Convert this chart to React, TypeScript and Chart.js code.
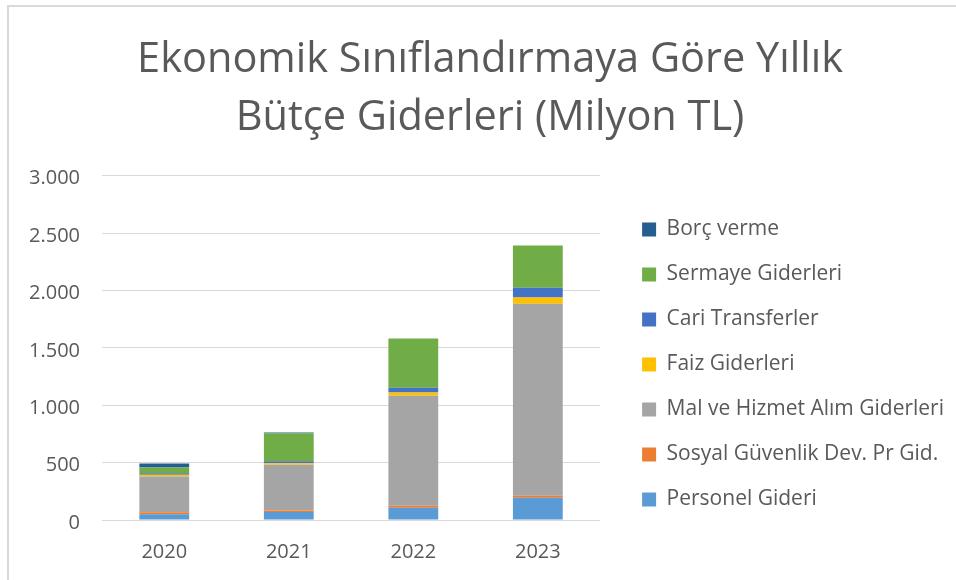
import React, { useEffect, useRef } from "react";
import { Chart, registerables } from "chart.js";
Chart.register(...registerables);

const years = ["2020", "2021", "2022", "2023"];
const seriesNames = [
  "Personel Gideri",
  "Sosyal Güvenlik Dev. Pr Gid.",
  "Mal ve Hizmet Alım Giderleri",
  "Faiz Giderleri",
  "Cari Transferler",
  "Sermaye Giderleri",
  "Borç verme",
];
const personel = [50, 70, 107, 194];
const sosyal = [17, 12, 17, 17];
const malHizmet = [311, 400, 958, 1673];
const faiz = [17, 12, 29, 55];
const cariTransfer = [12, 17, 41, 84];
const sermaye = [50, 244, 430, 369];
const borcVerme = [35, 8, 0, 0];
const seriesValues = [personel, sosyal, malHizmet, faiz, cariTransfer, sermaye, borcVerme];
const seriesColors = ["#5B9BD5", "#ED7D31", "#A5A5A5", "#FFC000", "#4472C4", "#70AD47", "#255E91"];
const titleLines = ["Ekonomik Sınıflandırmaya Göre Yıllık", "Bütçe Giderleri (Milyon TL)"];
const yMax = 3000;
const yStep = 500;

const FAMILY = '"Open Sans", sans-serif';
const TEXT = "#595959";
const CH = 580;

function fmt(v: number) {
  return String(v).replace(/\B(?=(\d{3})+(?!\d))/g, ".");
}

// layout targets (page pixels)
const AREA_LEFT = 102;
const AREA_RIGHT = 600;
const AREA_TOP = 175.7;
const AREA_BOTTOM = 520;
const LEGEND_BOX_X = 642;
const TITLE_CENTER = 490;

export default function App() {
  const ref = useRef<HTMLCanvasElement | null>(null);
  useEffect(() => {
    if (!ref.current) return;
    const legendFs = 21;
    const legPad = 24;
    const boxW = 14;
    const m = document.createElement("canvas").getContext("2d")!;
    m.font = `normal ${legendFs}px ${FAMILY}`;
    let tw = 0;
    seriesNames.forEach((n) => (tw = Math.max(tw, m.measureText(n).width)));
    const wLeg = legPad + boxW + legendFs / 2 + tw + 10;
    const legendLeft = LEGEND_BOX_X - legPad;
    const a = 2 * TITLE_CENTER - legendLeft - wLeg;
    const L = Math.min(0, Math.floor(a));
    const pl = a - L;
    const CW = Math.ceil(legendLeft + wLeg - L);
    const canvas = ref.current;
    canvas.width = CW;
    canvas.height = CH;
    canvas.style.width = CW + "px";
    canvas.style.height = CH + "px";
    canvas.style.left = L + "px";

    const chart = new Chart(canvas, {
      type: "bar",
      data: {
        labels: years,
        datasets: seriesNames.map((name, i) => ({
          label: name,
          data: seriesValues[i],
          backgroundColor: seriesColors[i],
          borderWidth: 0,
          categoryPercentage: 0.8,
          barPercentage: 0.5,
        })),
      },
      options: {
        animation: false,
        responsive: false,
        maintainAspectRatio: false,
        layout: { padding: { left: pl, right: 0, top: 0, bottom: 0 } },
        plugins: {
          title: {
            display: true,
            text: titleLines,
            color: TEXT,
            font: { family: FAMILY, size: 41.5, weight: "normal", lineHeight: "58px" },
            padding: { top: 31.5, bottom: AREA_TOP - 31.5 - 116 },
          },
          legend: {
            position: "right",
            align: "start",
            reverse: true,
            maxWidth: 500,
            title: {
              display: true,
              text: " ",
              font: { size: 10, lineHeight: 1 },
              padding: { top: 185, bottom: 0 },
            },
            labels: {
              color: TEXT,
              font: { family: FAMILY, size: legendFs },
              boxWidth: boxW,
              boxHeight: 14,
              padding: legPad,
            },
          },
          tooltip: { enabled: false },
        },
        scales: {
          x: {
            stacked: true,
            grid: { display: false, drawTicks: false },
            border: { display: false },
            ticks: { color: TEXT, font: { family: FAMILY, size: 20 }, padding: 20 },
            afterFit: (s: any) => {
              s.height = CH - AREA_BOTTOM;
            },
          },
          y: {
            stacked: true,
            min: 0,
            max: yMax,
            ticks: {
              stepSize: yStep,
              color: TEXT,
              font: { family: FAMILY, size: 20 },
              padding: 22,
              labelOffset: 3,
              callback: (v: any) => fmt(Number(v)),
            },
            grid: { color: "#D9D9D9", lineWidth: 1, drawTicks: false },
            border: { display: false },
            afterFit: (s: any) => {
              s.width = AREA_LEFT - a;
            },
          },
          yR: {
            type: "linear",
            position: "right",
            display: true,
            grid: { display: false, drawTicks: false },
            ticks: { display: false },
            border: { display: false },
            afterFit: (s: any) => {
              s.width = legendLeft - AREA_RIGHT;
            },
          },
        },
      } as any,
    });
    return () => chart.destroy();
  }, []);
  return (
    <div style={{ position: "fixed", left: 0, top: 0, width: 956, height: 580, overflow: "hidden", background: "#fff" }}>
      <div
        style={{
          position: "absolute",
          left: 7,
          top: 5,
          width: 1000,
          height: 1000,
          borderTop: "2px solid #D9D9D9",
          borderLeft: "2px solid #D9D9D9",
        }}
      />
      <canvas ref={ref} style={{ position: "absolute", left: 0, top: 0 }} />
    </div>
  );
}
